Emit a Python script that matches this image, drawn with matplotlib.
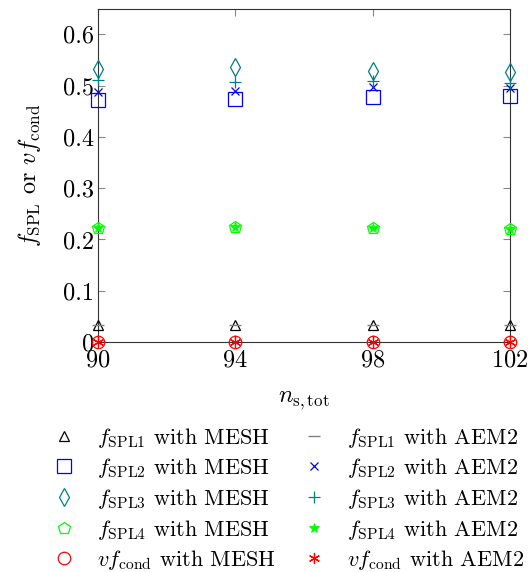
import matplotlib
matplotlib.use("Agg")
import matplotlib.pyplot as plt
from matplotlib.ticker import FixedLocator, FuncFormatter

plt.rcParams["font.family"] = "serif"
plt.rcParams["font.serif"] = ["cmr10", "DejaVu Serif"]
plt.rcParams["mathtext.fontset"] = "cm"
plt.rcParams["axes.formatter.use_mathtext"] = True

# total number of slices
n_s_tot = [90, 94, 98, 102]

# fractions computed with MESH
f_spl1_mesh = [0.034, 0.034, 0.034, 0.034]
f_spl2_mesh = [0.472, 0.473, 0.477, 0.480]
f_spl3_mesh = [0.532, 0.537, 0.529, 0.527]
f_spl4_mesh = [0.222, 0.224, 0.222, 0.220]
vf_cond_mesh = [0.0, 0.0, 0.0, 0.0]

# fractions computed with AEM2
f_spl1_aem2 = [0.034, 0.034, 0.034, 0.034]
f_spl2_aem2 = [0.487, 0.490, 0.497, 0.496]
f_spl3_aem2 = [0.511, 0.507, 0.508, 0.504]
f_spl4_aem2 = [0.222, 0.224, 0.222, 0.220]
vf_cond_aem2 = [0.0, 0.0, 0.0, 0.0]

y_ticks = [0, 0.1, 0.2, 0.3, 0.4, 0.5, 0.6]

teal = (0.0, 0.5, 0.5)
green = (0.0, 1.0, 0.0)

fig = plt.figure(figsize=(5.30, 5.72), dpi=100)
ax = fig.add_axes([0.185, 0.402, 0.777, 0.583])

kw = dict(linestyle="none", clip_on=False, zorder=3)
ax.plot(n_s_tot, f_spl1_mesh, marker="^", ms=7, mfc="none", mec="black", mew=0.9,
        label=r"$f_{\mathrm{SPL1}}$ with MESH", **kw)
ax.plot(n_s_tot, f_spl2_mesh, marker="s", ms=10, mfc="none", mec="blue", mew=0.9,
        label=r"$f_{\mathrm{SPL2}}$ with MESH", **kw)
ax.plot(n_s_tot, f_spl3_mesh, marker="d", ms=9, mfc="none", mec=teal, mew=0.9,
        label=r"$f_{\mathrm{SPL3}}$ with MESH", **kw)
ax.plot(n_s_tot, f_spl4_mesh, marker="p", ms=9, mfc="none", mec=green, mew=0.9,
        label=r"$f_{\mathrm{SPL4}}$ with MESH", **kw)
ax.plot(n_s_tot, vf_cond_mesh, marker="o", ms=9, mfc="none", mec="red", mew=0.9,
        label=r"$vf_{\mathrm{cond}}$ with MESH", **kw)

ax.plot(n_s_tot, f_spl1_aem2, marker="_", ms=8, mec="gray", mew=1.0,
        label=r"$f_{\mathrm{SPL1}}$ with AEM2", **kw)
ax.plot(n_s_tot, f_spl2_aem2, marker="x", ms=6, mec="blue", mew=0.9,
        label=r"$f_{\mathrm{SPL2}}$ with AEM2", **kw)
ax.plot(n_s_tot, f_spl3_aem2, marker="+", ms=8, mec=teal, mew=0.9,
        label=r"$f_{\mathrm{SPL3}}$ with AEM2", **kw)
ax.plot(n_s_tot, f_spl4_aem2, marker="*", ms=7, mfc=green, mec=green, mew=0.6,
        label=r"$f_{\mathrm{SPL4}}$ with AEM2", **kw)
ax.plot(n_s_tot, vf_cond_aem2, marker=(6, 2, 0), ms=8, mec="red", mew=0.9,
        label=r"$vf_{\mathrm{cond}}$ with AEM2", **kw)

ax.set_xlim(90, 102)
ax.set_ylim(0, 0.65)
ax.xaxis.set_major_locator(FixedLocator(n_s_tot))
ax.yaxis.set_major_locator(FixedLocator(y_ticks))
ax.yaxis.set_major_formatter(FuncFormatter(lambda v, p: "0" if v == 0 else f"{v:.1f}"))
ax.tick_params(direction="in", top=True, right=True, length=5, width=0.8,
               color="#888888", labelsize=17.5, pad=3)
ax.tick_params(axis="x", pad=5)
for s in ax.spines.values():
    s.set_linewidth(0.8)
    s.set_color("#333333")

ax.set_xlabel(r"$n_{\mathrm{s,tot}}$", fontsize=17.5, labelpad=13)
ax.set_ylabel(r"$f_{\mathrm{SPL}}$ or $vf_{\mathrm{cond}}$", fontsize=17.5, labelpad=14)

fig.legend(loc="upper left", bbox_to_anchor=(0.100, 0.256), ncol=2, frameon=False,
           fontsize=16, handlelength=1.0, handletextpad=1.0, columnspacing=1.2,
           labelspacing=0.3, borderaxespad=0, borderpad=0)

fig.savefig("out.png", dpi=100)
